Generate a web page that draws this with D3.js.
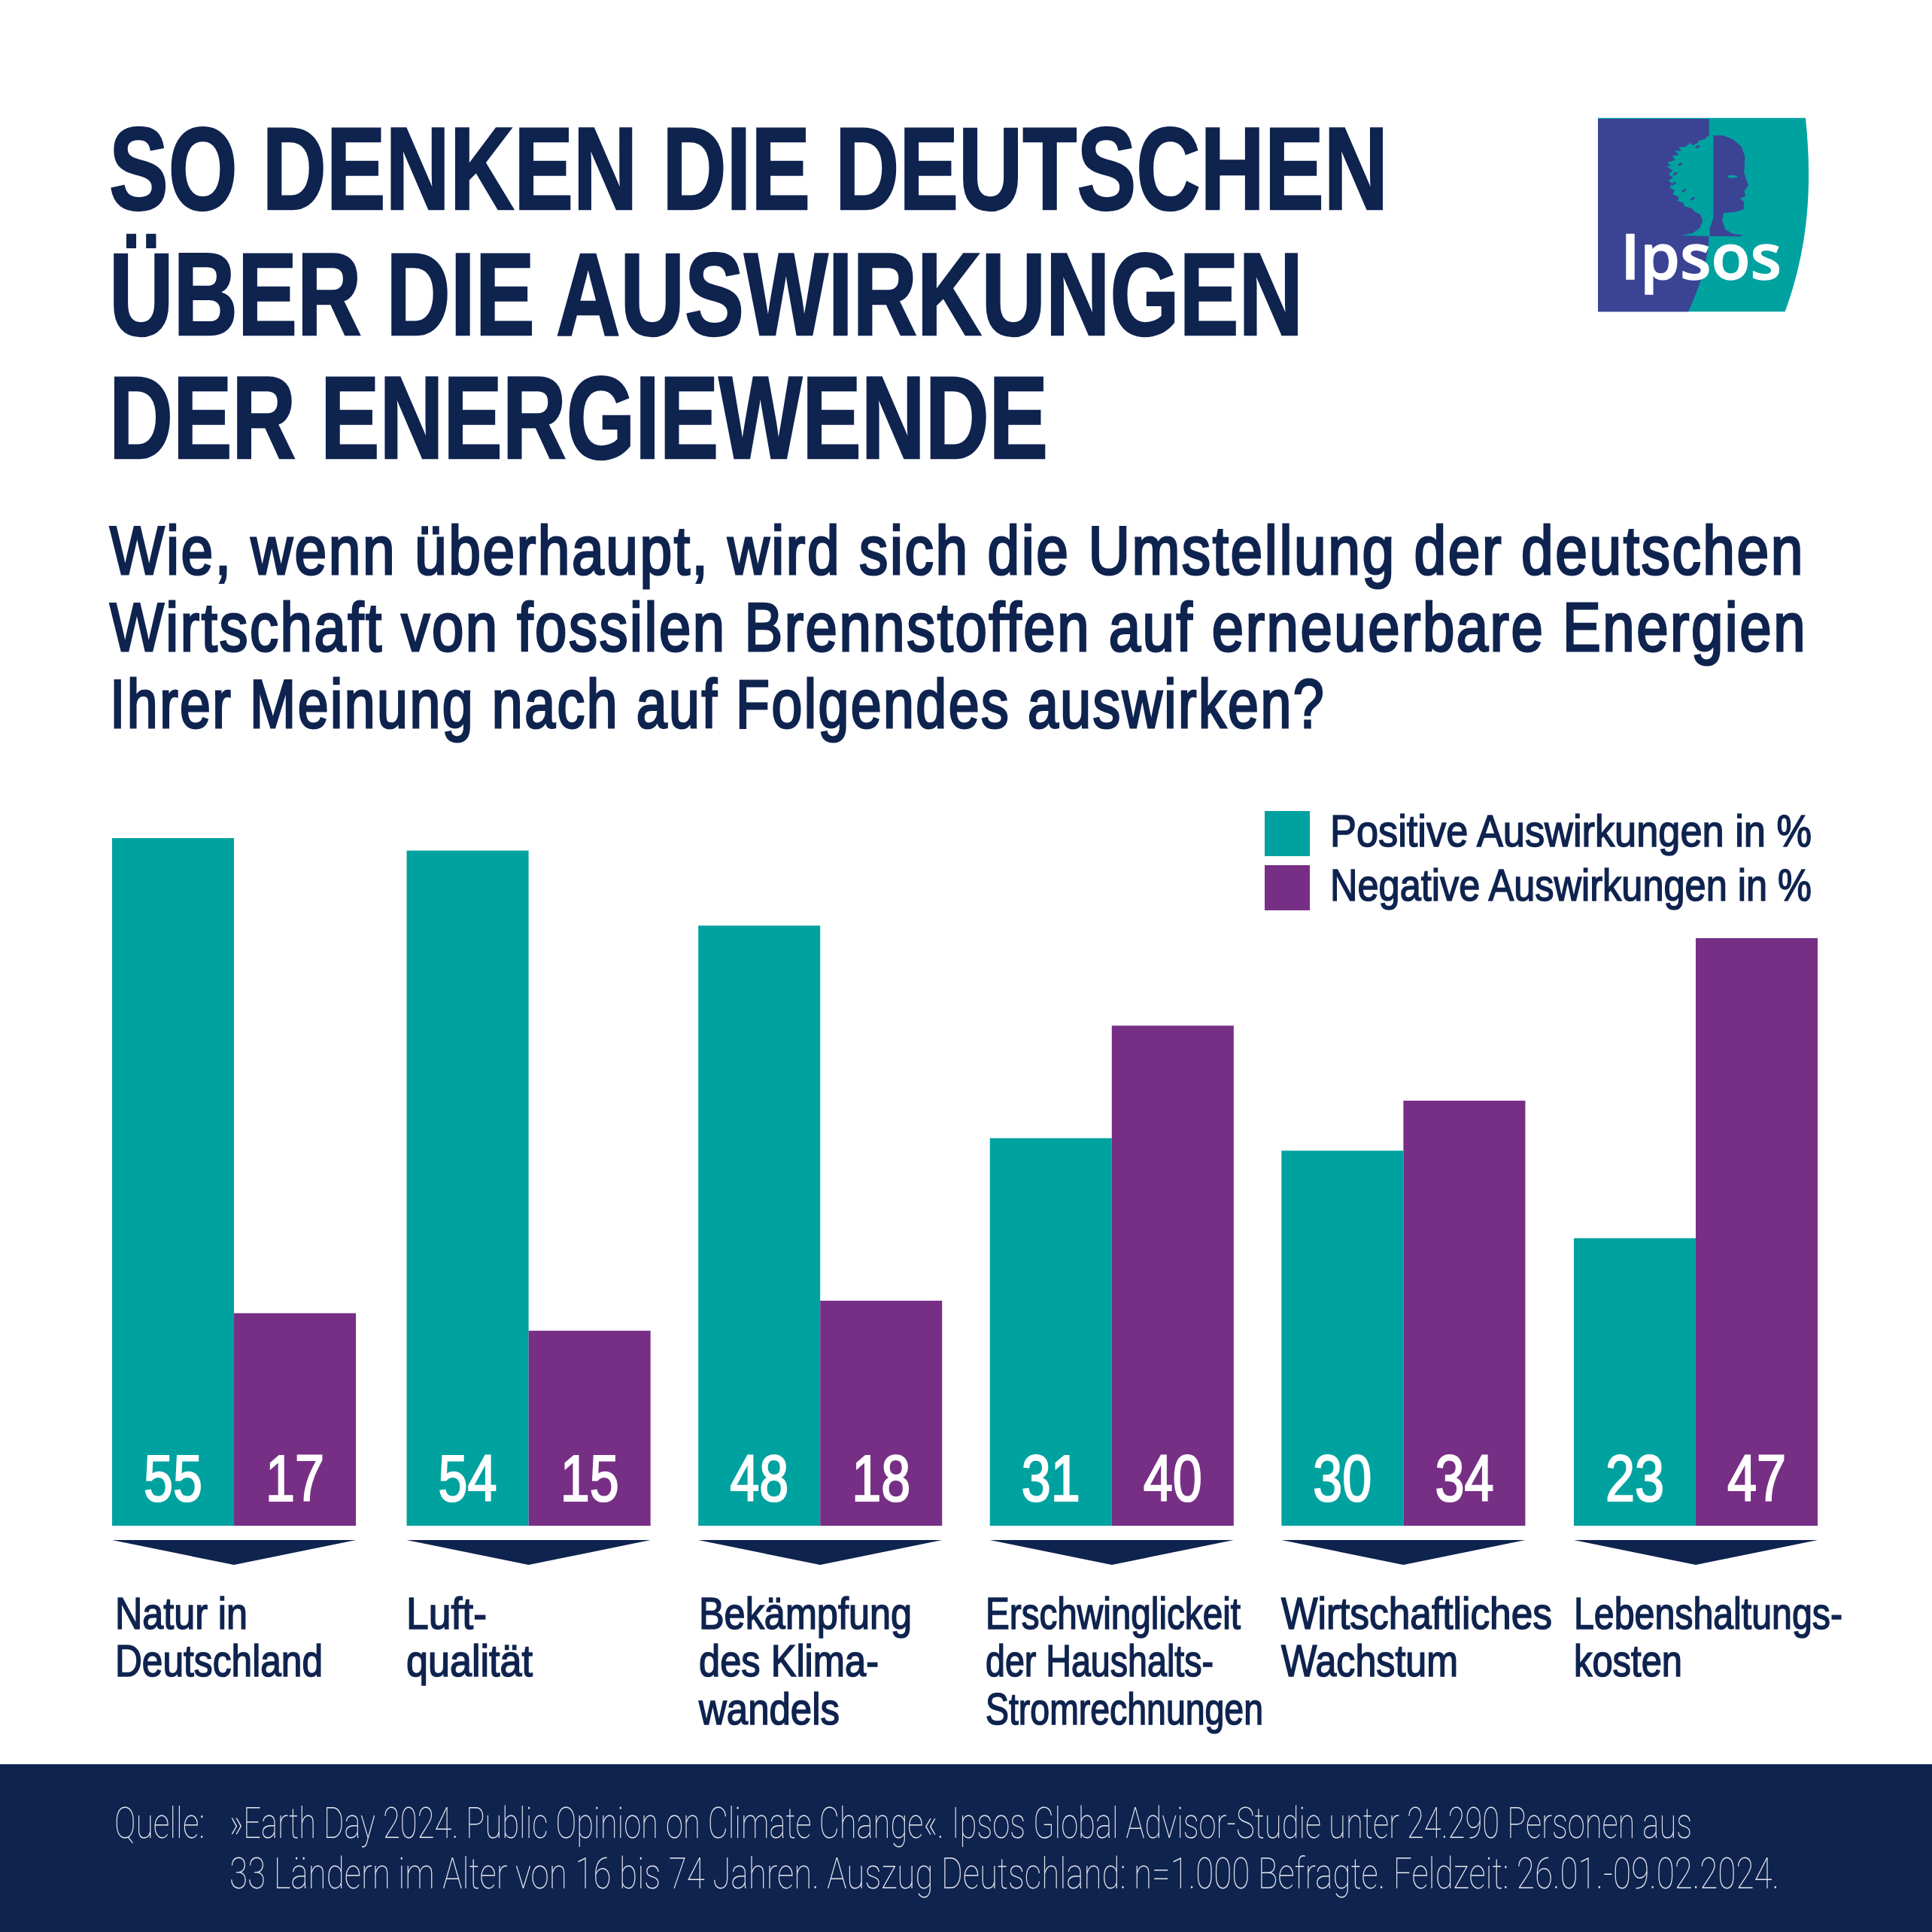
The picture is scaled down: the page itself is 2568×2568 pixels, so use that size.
<!DOCTYPE html>
<html lang="de">
<head>
<meta charset="utf-8">
<title>Energiewende</title>
<script src="https://d3js.org/d3.v7.min.js"></script>
<style>
  html, body { margin: 0; padding: 0; background: #fff; }
  svg { display: block; }
  text { font-family: "Liberation Sans", sans-serif; }
</style>
</head>
<body>
<script>
// data
const categories = ["Natur in Deutschland", "Luftqualität", "Bekämpfung des Klimawandels",
  "Erschwinglickeit der Haushalts-Stromrechnungen", "Wirtschaftliches Wachstum", "Lebenshaltungskosten"];
const positive = [55, 54, 48, 31, 30, 23];
// the second purple bar is drawn a bit taller than its printed 15
const negative = [17, 15.6, 18, 40, 34, 47];
const negativeLabels = [17, 15, 18, 40, 34, 47];
const seriesNames = ["Positive Auswirkungen in %", "Negative Auswirkungen in %"];
const categoryLines = [
  ["Natur in", "Deutschland"],
  ["Luft-", "qualität"],
  ["Bekämpfung", "des Klima-", "wandels"],
  ["Erschwinglickeit", "der Haushalts-", "Stromrechnungen"],
  ["Wirtschaftliches", "Wachstum"],
  ["Lebenshaltungs-", "kosten"]
];
const titleLines = ["SO DENKEN DIE DEUTSCHEN", "ÜBER DIE AUSWIRKUNGEN", "DER ENERGIEWENDE"];
const questionLines = [
  "Wie, wenn überhaupt, wird sich die Umstellung der deutschen",
  "Wirtschaft von fossilen Brennstoffen auf erneuerbare Energien",
  "Ihrer Meinung nach auf Folgendes auswirken?"
];
const sourceLines = [
  "»Earth Day 2024. Public Opinion on Climate Change«. Ipsos Global Advisor-Studie unter 24.290 Personen aus",
  "33 Ländern im Alter von 16 bis 74 Jahren. Auszug Deutschland: n=1.000 Befragte. Feldzeit: 26.01.-09.02.2024."
];

const teal = "#00a2a0", purple = "#772f86", navy = "#0f234f", logoBlue = "#3b4395";

const svg = d3.select("body").append("svg").attr("width", 2568).attr("height", 2568);

// no condensed font here, so squeeze each line to the width it has in the reference
function fitted(sel, width) {
  return sel.attr("textLength", width).attr("lengthAdjust", "spacingAndGlyphs");
}

// header
const titleWidths = [1700, 1587, 1248];
const titleBase = [278, 445, 609];
titleLines.forEach((t, i) => {
  fitted(svg.append("text").attr("x", 145).attr("y", titleBase[i])
    .attr("font-size", 155).attr("font-weight", 700).attr("fill", navy)
    .attr("stroke", navy).attr("stroke-width", 2.5).text(t), titleWidths[i]);
});

const questionWidths = [2253, 2256, 1616];
const questionBase = [763, 865, 967];
questionLines.forEach((t, i) => {
  fitted(svg.append("text").attr("x", 146).attr("y", questionBase[i])
    .attr("font-size", 90).attr("letter-spacing", 3).attr("fill", navy)
    .attr("stroke", navy).attr("stroke-width", 3).text(t), questionWidths[i]);
});

// scales
const x0 = d3.scaleBand().domain(categories).range([149, 2416]).paddingInner(0.166);
const x1 = d3.scaleBand().domain(["pos", "neg"]).range([0, x0.bandwidth()]);
const y = d3.scaleLinear().domain([0, 55]).range([2028, 1114]);

// the pairs are not spaced quite evenly in the reference
const groupShift = [0, 3, 2, 1, 0, 0];
const groupX = i => x0(categories[i]) + groupShift[i];

const groups = svg.selectAll("g.group").data(categories).join("g")
  .attr("class", "group")
  .attr("transform", (d, i) => `translate(${groupX(i)},0)`);

const rows = categories.map((c, i) => [
  { key: "pos", value: positive[i], label: positive[i], color: teal },
  { key: "neg", value: negative[i], label: negativeLabels[i], color: purple }
]);

groups.each(function (c, i) {
  const g = d3.select(this);
  g.selectAll("rect").data(rows[i]).join("rect")
    .attr("x", d => x1(d.key))
    .attr("y", d => y(d.value))
    .attr("width", x1.bandwidth())
    .attr("height", d => y(0) - y(d.value))
    .attr("fill", d => d.color);
  g.selectAll("text.value").data(rows[i]).join("text")
    .attr("class", "value")
    .attr("x", d => x1(d.key) + x1.bandwidth() / 2)
    .attr("y", 1995)
    .attr("text-anchor", "middle")
    .attr("font-size", 88)
    .attr("fill", "#fff")
    .attr("stroke", "#fff")
    .attr("stroke-width", 2.2)
    .attr("textLength", 78)
    .attr("lengthAdjust", "spacingAndGlyphs")
    .text(d => d.label);
  // arrow under the pair
  const w = x0.bandwidth();
  g.append("path")
    .attr("d", `M0,2047H${w}L${w / 2},2080Z`)
    .attr("fill", navy);
});

// category labels
const labelX = [153, 540, 929, 1310, 1703, 2092];
const labelBase = [2165, 2228, 2292];
const labelWidths = [
  [176, 276], [107, 168], [283, 239, 187], [339, 303, 369], [360, 235], [357, 144]
];
categories.forEach((c, i) => {
  categoryLines[i].forEach((line, j) => {
    fitted(svg.append("text").attr("x", labelX[i]).attr("y", labelBase[j])
      .attr("font-size", 58.5).attr("fill", navy).attr("stroke", navy).attr("stroke-width", 1.6).text(line),
      labelWidths[i][j]);
  });
});

// legend
seriesNames.forEach((name, i) => {
  svg.append("rect").attr("x", 1681).attr("y", 1078 + i * 72).attr("width", 60).attr("height", 60)
    .attr("fill", i ? purple : teal);
  fitted(svg.append("text").attr("x", 1768).attr("y", 1125 + i * 72)
    .attr("font-size", 60).attr("fill", navy).attr("stroke", navy).attr("stroke-width", 1.6).text(name), 640);
});

// footer
svg.append("rect").attr("x", 0).attr("y", 2345).attr("width", 2568).attr("height", 223).attr("fill", navy);
const sourceStyle = s => s.attr("font-size", 57).attr("fill", "#e2e5ec")
  .style("font-family", "Roboto, sans-serif").style("font-weight", 100);
sourceStyle(fitted(svg.append("text").attr("x", 152).attr("y", 2443).text("Quelle:"), 120));
const sourceWidths = [1944, 2060];
sourceLines.forEach((t, i) => {
  sourceStyle(fitted(svg.append("text").attr("x", 305).attr("y", 2443 + i * 67).text(t), sourceWidths[i]));
});

// logo, coordinates follow a 3x crop of the reference
const logo = svg.append("g").attr("transform", "translate(2050,130) scale(0.3333)");
logo.append("path").attr("fill", teal)
  .attr("d", "M222,80H1050C1072,300 1075,560 968,853H222Z");
logo.append("path").attr("fill", logoBlue)
  .attr("d", "M222,84H665V552C660,660 625,760 582,853H222Z");
// left half of the tree
logo.append("path").attr("fill", teal)
  .attr("d", "M682,150L655,155L650,165L625,170L620,180L600,190L590,180L572,195L545,198L555,212L528,210L545,228L518,232L530,248L498,258L515,272L495,272L520,290L503,305L522,318L503,330L518,342L508,358L528,370L520,385L545,395L540,410L565,420L565,432L595,440L610,455L630,465L640,490L628,520L600,540L552,548L668,552L682,548Z");
// right half, the face
logo.append("path").attr("fill", logoBlue)
  .attr("d", "M682,150L720,150L760,165L795,195L808,235L805,300L822,350L805,372L810,392L788,402L805,415L803,445L770,455L722,460L718,490L730,525L760,542L802,548L790,553L668,552L668,520L682,480Z");
logo.append("ellipse").attr("cx", 758).attr("cy", 314).attr("rx", 20).attr("ry", 6).attr("fill", teal);
// leaf flecks in the crown
[[620, 195], [550, 265], [525, 342], [565, 370], [600, 402], [530, 303]].forEach(p => {
  logo.append("ellipse").attr("cx", p[0]).attr("cy", p[1]).attr("rx", 10).attr("ry", 4)
    .attr("transform", `rotate(-30 ${p[0]} ${p[1]})`).attr("fill", logoBlue);
});
logo.append("text").attr("x", 312).attr("y", 722)
  .attr("textLength", 642).attr("lengthAdjust", "spacingAndGlyphs")
  .attr("font-size", 250).attr("fill", "#fff").attr("stroke", "#fff").attr("stroke-width", 4)
  .style("font-family", "'Open Sans', sans-serif").style("font-weight", 600)
  .text("Ipsos");
</script>
</body>
</html>
